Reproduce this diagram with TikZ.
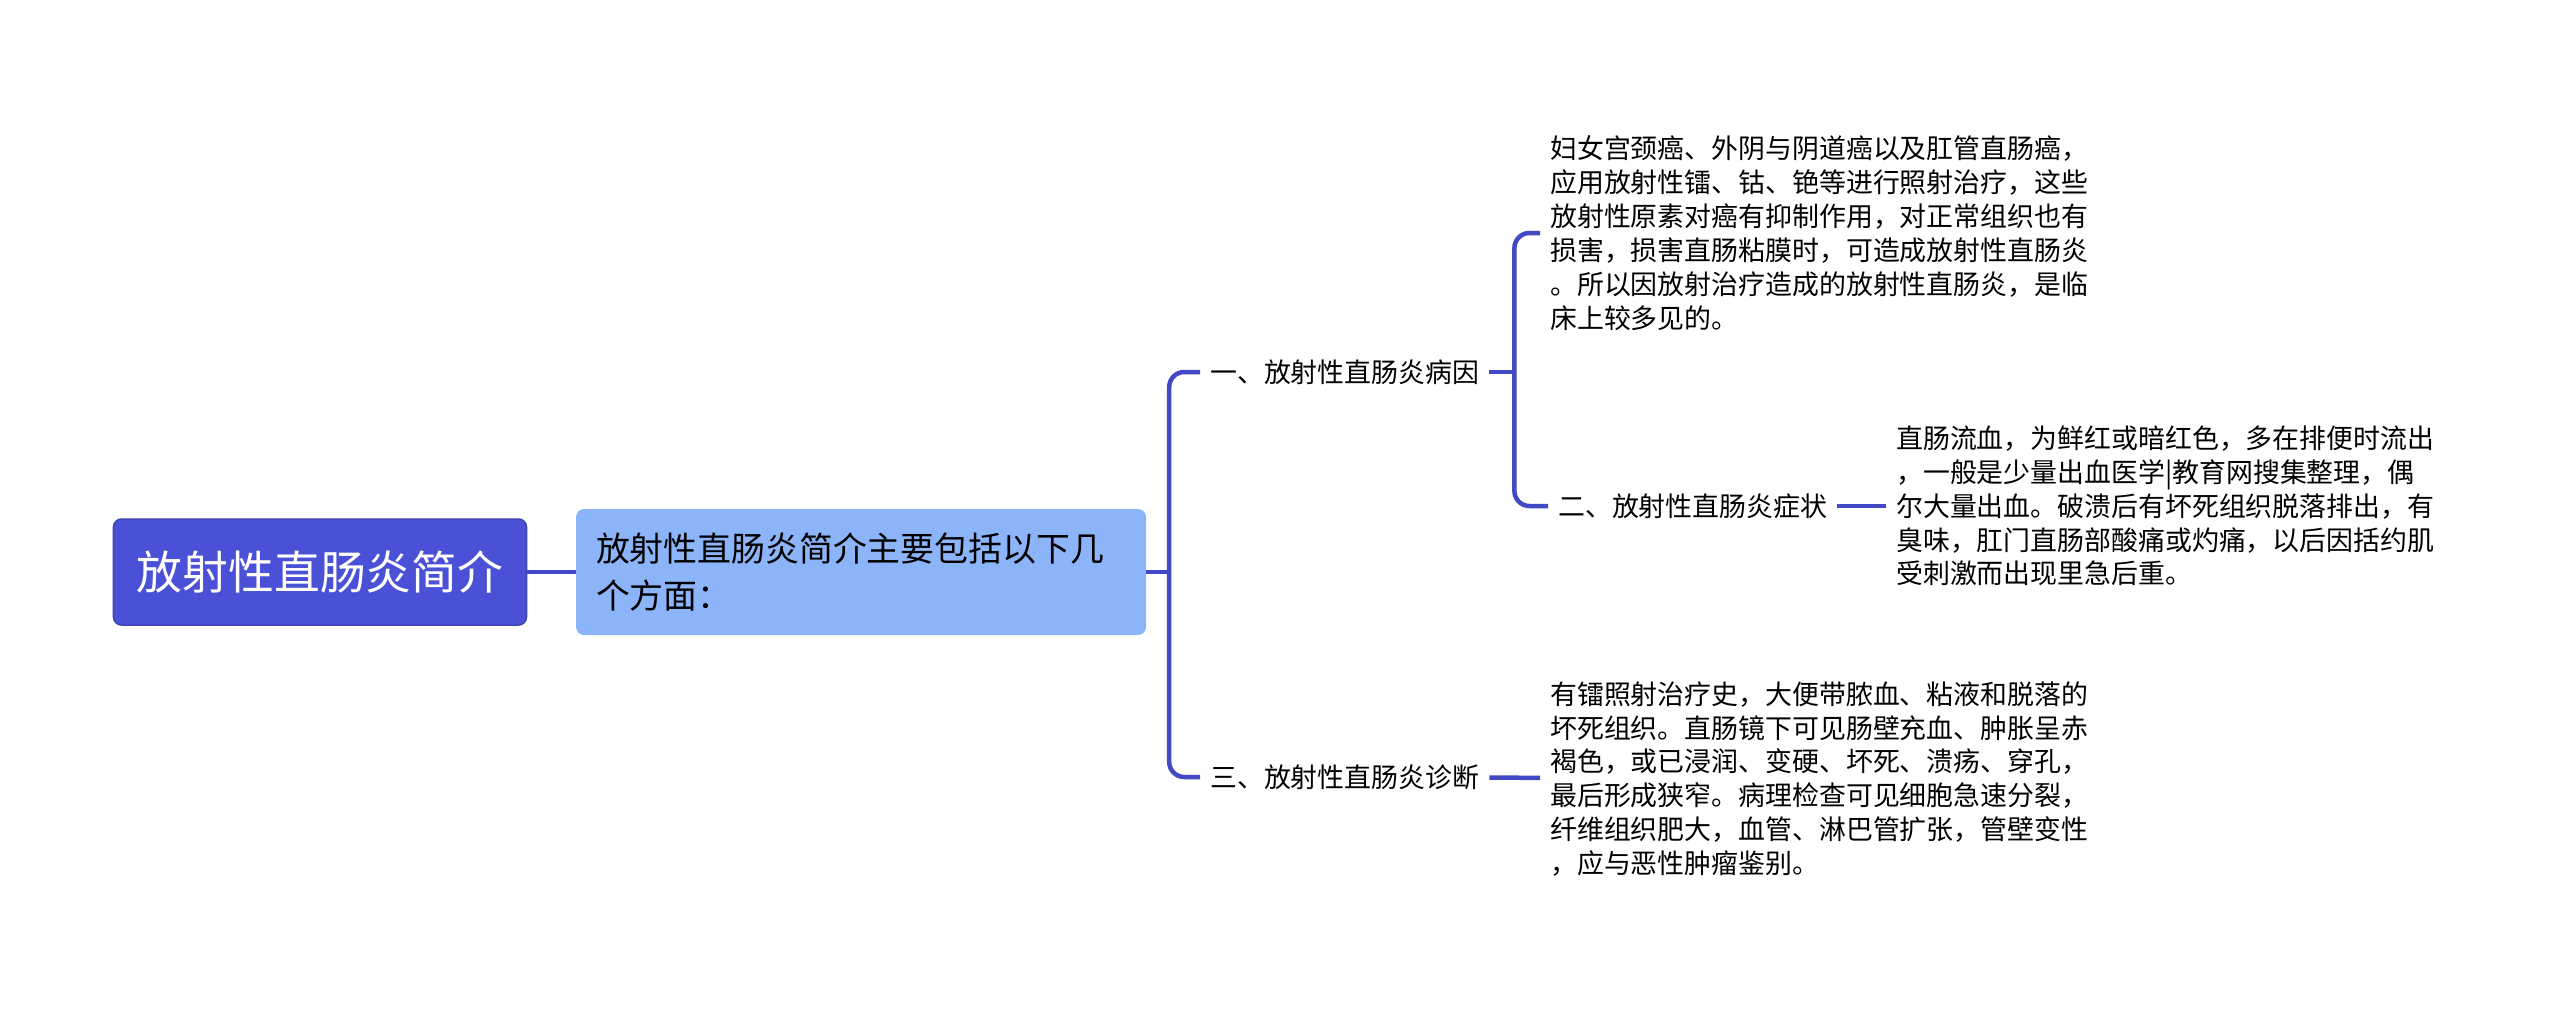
\documentclass[tikz,border=0pt]{standalone}
\usepackage{fontspec}
\setmainfont{Noto Sans CJK SC}
\definecolor{rootblue}{HTML}{4A51D6}
\definecolor{subblue}{HTML}{8CB4F9}
\definecolor{linkblue}{HTML}{4349C4}
\begin{document}
\begin{tikzpicture}[x=1bp,y=-1bp,
        link/.style={draw=linkblue,line width=4.5bp},
        elbow/.style={link,rounded corners=15bp},
        topic/.style={inner xsep=10bp,inner ysep=4bp,anchor=west,font=\fontsize{27}{32}\selectfont},
        leaf/.style={inner xsep=10bp,align=left,anchor=west,font=\fontsize{27}{34}\selectfont}]
            \fill [white] (0,0) rectangle (2560,1009);
            \useasboundingbox (0,0) rectangle (2560,1009);
            \node [fill=rootblue,draw=rootblue!85!black,line width=1.5bp,rounded corners=8bp,minimum width=413bp,minimum height=106bp,text=white,font=\fontsize{46}{50}\selectfont] (root) at (320,572) {放射性直肠炎简介};
            \node [fill=subblue,rounded corners=8bp,text width=530bp,inner xsep=20bp,minimum height=126bp,align=left,font=\fontsize{34}{47}\selectfont] (sum) at (861,572) {放射性直肠炎简介主要包括以下几\\个方面：};
            \node [topic] (cause) at (1200,372) {一、放射性直肠炎病因};
            \node [topic] (symp) at (1548,506) {二、放射性直肠炎症状};
            \node [topic] (diag) at (1200,777) {三、放射性直肠炎诊断};
            \node [leaf] (causetxt) at (1540,233) {妇女宫颈癌、外阴与阴道癌以及肛管直肠癌，\\应用放射性镭、钴、铯等进行照射治疗，这些\\放射性原素对癌有抑制作用，对正常组织也有\\损害，损害直肠粘膜时，可造成放射性直肠炎\\。所以因放射治疗造成的放射性直肠炎，是临\\床上较多见的。};
            \node [leaf] (symptxt) at (1886,506) {直肠流血，为鲜红或暗红色，多在排便时流出\\，一般是少量出血医学|教育网搜集整理，偶\\尔大量出血。破溃后有坏死组织脱落排出，有\\臭味，肛门直肠部酸痛或灼痛，以后因括约肌\\受刺激而出现里急后重。};
            \node [leaf] (diagtxt) at (1540,779) {有镭照射治疗史，大便带脓血、粘液和脱落的\\坏死组织。直肠镜下可见肠壁充血、肿胀呈赤\\褐色，或已浸润、变硬、坏死、溃疡、穿孔，\\最后形成狭窄。病理检查可见细胞急速分裂，\\纤维组织肥大，血管、淋巴管扩张，管壁变性\\，应与恶性肿瘤鉴别。};
            \draw [link] (root) -- (sum);
            \draw [link] (sum.east) -- ++(23,0) coordinate (j0);
            \draw [elbow] (j0) |- (cause.west);
            \draw [elbow] (j0) |- (diag.west);
            \draw [link] (cause.east) -- ++(25,0) coordinate (j1);
            \draw [elbow] (j1) |- (causetxt.west);
            \draw [elbow] (j1) |- (symp.west);
            \draw [link] (symp) -- (symptxt);
            \draw [link] (diag) -- (diagtxt);
        \end{tikzpicture}
\end{document}
